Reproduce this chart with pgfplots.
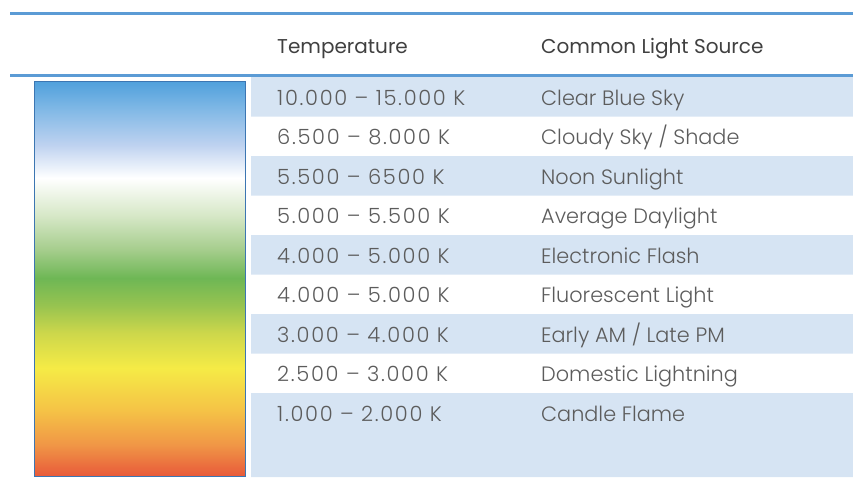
\documentclass[border=0pt]{standalone}
\usepackage{pgfplots}
\pgfplotsset{compat=1.18}
\usepackage{pgfplotstable}
\usepackage{fontspec}
\setmainfont{Poppins}
\newfontfamily\lightfont{Poppins Light}
\newfontfamily\numfont[LetterSpace=8]{Poppins Light}

\definecolor{rule}{RGB}{91,155,213}
\definecolor{band}{RGB}{214,228,243}
\definecolor{txt}{RGB}{92,92,92}
\definecolor{head}{RGB}{64,64,64}
\definecolor{frame}{RGB}{60,118,178}

\pgfplotsset{
  colormap={kelvin}{
    rgb255(81)=(79,160,220)
    rgb255(110)=(130,185,230)
    rgb255(145)=(190,210,240)
    rgb255(178)=(255,255,255)
    rgb255(215)=(215,232,200)
    rgb255(250)=(165,205,140)
    rgb255(278)=(110,183,85)
    rgb255(305)=(150,195,80)
    rgb255(333)=(205,215,75)
    rgb255(368)=(245,235,70)
    rgb255(410)=(245,195,70)
    rgb255(445)=(240,150,70)
    rgb255(476)=(232,90,58)
  }
}

% gradient strip, one pair of points per colour stop
\pgfplotstableread{
x y
34 81
245 81
34 110
245 110
34 145
245 145
34 178
245 178
34 215
245 215
34 250
245 250
34 278
245 278
34 305
245 305
34 333
245 333
34 368
245 368
34 410
245 410
34 445
245 445
34 476
245 476
}\gradtab

\newcommand{\rowtxt}[3]{%
  \node[anchor=base west, inner sep=0, text=txt, font=\numfont\fontsize{21}{24}\selectfont] at (axis cs:277,#1) {#2};
  \node[anchor=base west, inner sep=0, text=txt, font=\lightfont\fontsize{20.8}{24}\selectfont] at (axis cs:541,#1) {#3};
}

\begin{document}
\begin{tikzpicture}
\begin{axis}[
  scale only axis,
  width=853pt, height=477pt,
  xmin=0, xmax=853, ymin=0, ymax=477,
  y dir=reverse,
  hide axis,
  colormap name=kelvin,
  point meta min=81, point meta max=476,
]
  \addplot[draw=none, forget plot] coordinates {(0,0) (853,477)};

  % shaded rows
  \addplot[fill=band, draw=none] coordinates {(251,77) (853,77) (853,116.5) (251,116.5) (251,77)};
  \addplot[fill=band, draw=none] coordinates {(251,156) (853,156) (853,195.5) (251,195.5) (251,156)};
  \addplot[fill=band, draw=none] coordinates {(251,235) (853,235) (853,274.5) (251,274.5) (251,235)};
  \addplot[fill=band, draw=none] coordinates {(251,314) (853,314) (853,353.5) (251,353.5) (251,314)};
  \addplot[fill=band, draw=none] coordinates {(251,393) (853,393) (853,477) (251,477) (251,393)};

  % rules
  \addplot[rule, line width=3pt] coordinates {(10,13) (853,13)};
  \addplot[rule, line width=3pt] coordinates {(10,75) (853,75)};

  % colour temperature strip
  \addplot[surf, shader=interp, mesh/cols=2, point meta=\thisrow{y}] table {\gradtab};
  \addplot[frame, line width=1pt] coordinates {(34,81) (245,81) (245,476) (34,476) (34,81)};

  \node[anchor=base west, inner sep=0, text=head, font=\fontsize{20}{24}\selectfont] at (axis cs:277,53) {Temperature};
  \node[anchor=base west, inner sep=0, text=head, font=\fontsize{20}{24}\selectfont] at (axis cs:541,53) {Common Light Source};

  \rowtxt{105}{10.000 – 15.000 K}{Clear Blue Sky}
  \rowtxt{144.5}{6.500 – 8.000 K}{Cloudy Sky / Shade}
  \rowtxt{184}{5.500 – 6500 K}{Noon Sunlight}
  \rowtxt{223.5}{5.000 – 5.500 K}{Average Daylight}
  \rowtxt{263}{4.000 – 5.000 K}{Electronic Flash}
  \rowtxt{302.5}{4.000 – 5.000 K}{Fluorescent Light}
  \rowtxt{342}{3.000 – 4.000 K}{Early AM / Late PM}
  \rowtxt{381.5}{2.500 – 3.000 K}{Domestic Lightning}
  \rowtxt{421}{1.000 – 2.000 K}{Candle Flame}
\end{axis}
\end{tikzpicture}
\end{document}
